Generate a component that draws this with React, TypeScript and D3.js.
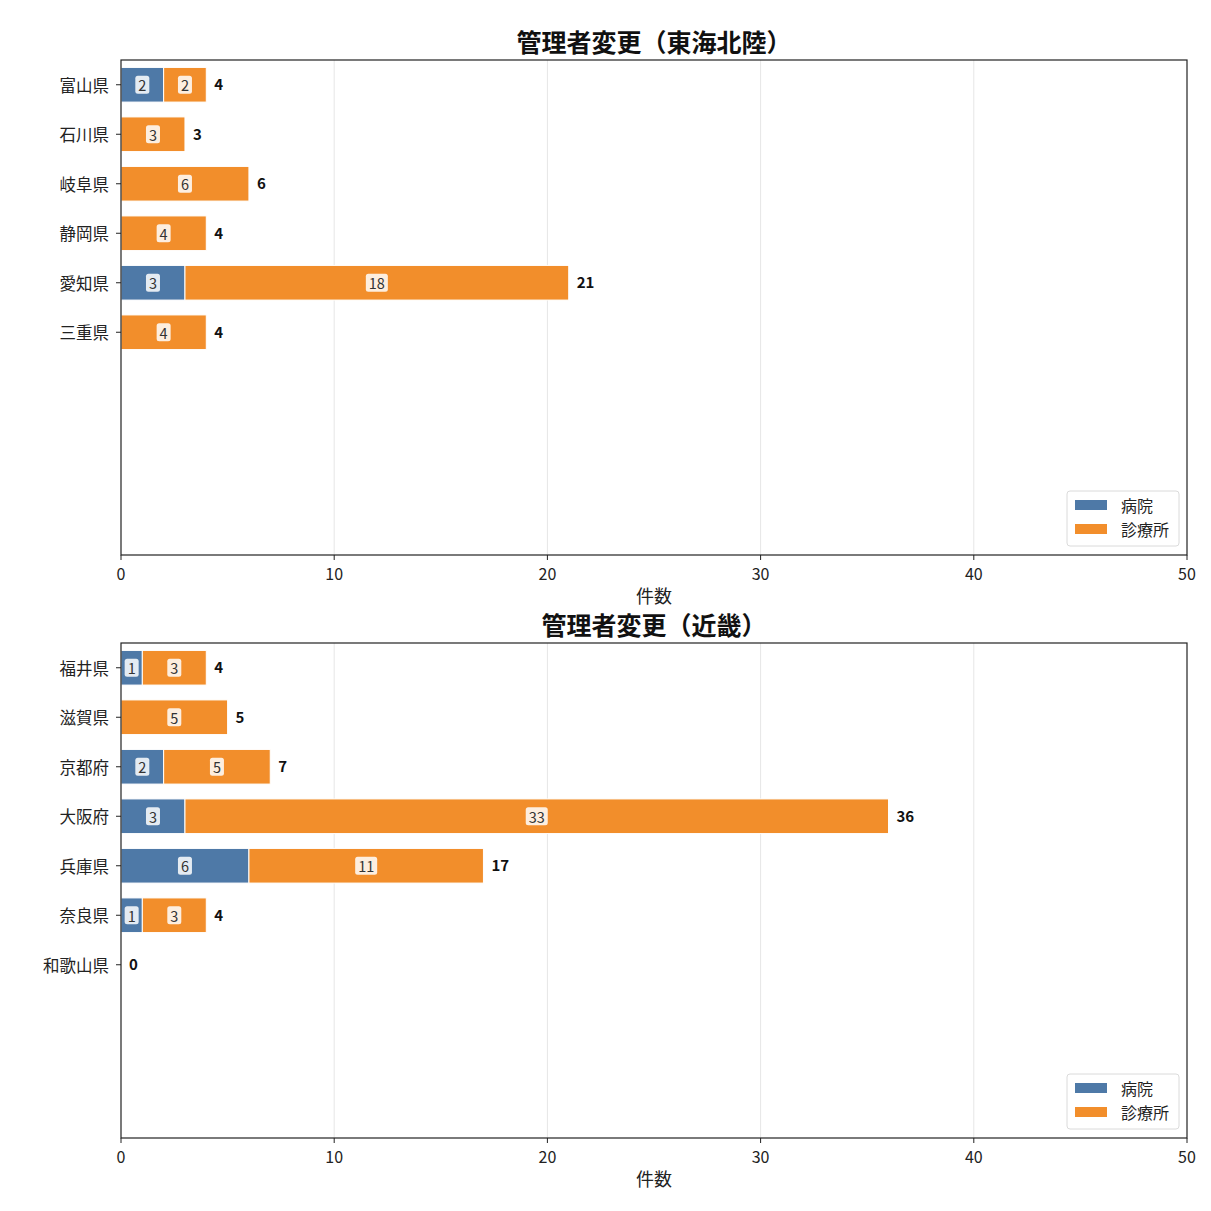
import React from 'react';
import * as d3 from 'd3';

const topTitle = '管理者変更（東海北陸）';
const topCategories = ['富山県', '石川県', '岐阜県', '静岡県', '愛知県', '三重県'];
const topHospital = [2, 0, 0, 0, 3, 0];
const topClinic = [2, 3, 6, 4, 18, 4];

const bottomTitle = '管理者変更（近畿）';
const bottomCategories = ['福井県', '滋賀県', '京都府', '大阪府', '兵庫県', '奈良県', '和歌山県'];
const bottomHospital = [1, 0, 2, 3, 6, 1, 0];
const bottomClinic = [3, 5, 5, 33, 11, 3, 0];

const xTicks = [0, 10, 20, 30, 40, 50];
const seriesNames = ['病院', '診療所'];
const seriesColors = ['#4e79a7', '#f28e2b'];
const xLabel = '件数';

const FONT = '"Noto Sans CJK JP", "Noto Sans", sans-serif';
const SLOTS = 10;

interface PanelProps {
  top: number;
  title: string;
  categories: string[];
  hospital: number[];
  clinic: number[];
}

const left = 121;
const width = 1066;
const height = 495;

const InnerLabel: React.FC<{ x: number; y: number; v: number }> = ({ x, y, v }) => {
  const w = String(v).length * 8 + 6;
  return (
    <g>
      <rect x={x - w / 2} y={y - 9} width={w} height={18} rx={2.5} fill="#ffffff" opacity={0.85} />
      <text x={x} y={y} textAnchor="middle" dominantBaseline="central" fontSize={14.5} fill="#333" fontFamily={FONT}>
        {v}
      </text>
    </g>
  );
};

const Panel: React.FC<PanelProps> = ({ top, title, categories, hospital, clinic }) => {
  const x = d3.scaleLinear().domain([0, 50]).range([left, left + width]);
  const y = d3.scaleLinear().domain([-0.5, SLOTS - 0.5]).range([top, top + height]);
  const step = height / SLOTS;
  const barH = step * 0.7;

  return (
    <g fontFamily={FONT}>
      <text x={left + width / 2} y={top - 8} textAnchor="middle" fontSize={25} fontWeight="bold" fill="#111">
        {title}
      </text>
      {xTicks.slice(1, -1).map(t => (
        <line key={t} x1={x(t)} x2={x(t)} y1={top} y2={top + height} stroke="#e6e6e6" strokeWidth={1} />
      ))}
      {categories.map((c, i) => {
        const cy = y(i);
        const h = hospital[i];
        const k = clinic[i];
        const total = h + k;
        return (
          <g key={c}>
            {h > 0 && (
              <rect x={x(0)} y={cy - barH / 2} width={x(h) - x(0)} height={barH} fill={seriesColors[0]} stroke="#fff" strokeWidth={1} />
            )}
            {k > 0 && (
              <rect x={x(h)} y={cy - barH / 2} width={x(h + k) - x(h)} height={barH} fill={seriesColors[1]} stroke="#fff" strokeWidth={1} />
            )}
            {h > 0 && <InnerLabel x={x(h / 2)} y={cy} v={h} />}
            {k > 0 && <InnerLabel x={x(h + k / 2)} y={cy} v={k} />}
            <text x={x(total) + 8} y={cy - 1} dominantBaseline="central" fontSize={15} fontWeight="bold" fill="#111">
              {total}
            </text>
            <line x1={left - 5} x2={left} y1={cy} y2={cy} stroke="#222" />
            <text x={left - 12} y={cy} textAnchor="end" dominantBaseline="central" fontSize={16.5} fill="#222">
              {c}
            </text>
          </g>
        );
      })}
      <rect x={left} y={top} width={width} height={height} fill="none" stroke="#222" strokeWidth={1.2} />
      {xTicks.map(t => (
        <g key={t}>
          <line x1={x(t)} x2={x(t)} y1={top + height} y2={top + height + 5} stroke="#222" />
          <text x={x(t)} y={top + height + 18} textAnchor="middle" dominantBaseline="central" fontSize={16} fill="#222">
            {t}
          </text>
        </g>
      ))}
      <text x={left + width / 2} y={top + height + 40} textAnchor="middle" dominantBaseline="central" fontSize={18} fill="#222">
        {xLabel}
      </text>
      <g transform={`translate(${left + width - 120},${top + height - 64})`}>
        <rect x={0} y={0} width={112} height={55} rx={3} fill="#fff" stroke="#d8d8d8" opacity={0.9} />
        {seriesNames.map((s, i) => (
          <g key={s}>
            <rect x={8} y={9 + i * 24} width={32} height={10} fill={seriesColors[i]} />
            <text x={54} y={14 + i * 24} dominantBaseline="central" fontSize={16} fill="#222">
              {s}
            </text>
          </g>
        ))}
      </g>
    </g>
  );
};

export default function App() {
  return (
    <svg width={1211} height={1211} style={{ position: 'absolute', left: 0, top: 0, background: '#fff' }}>
      <rect width={1211} height={1211} fill="#fff" />
      <Panel top={60} title={topTitle} categories={topCategories} hospital={topHospital} clinic={topClinic} />
      <Panel top={643} title={bottomTitle} categories={bottomCategories} hospital={bottomHospital} clinic={bottomClinic} />
    </svg>
  );
}
